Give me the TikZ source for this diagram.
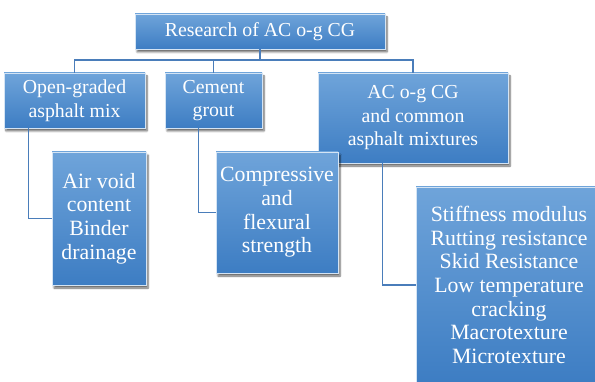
\documentclass[tikz,border=0pt]{standalone}
\usepackage{fontspec}
\setmainfont{Liberation Serif}
\usetikzlibrary{shadows.blur}
\definecolor{boxtop}{HTML}{6FA4DA}
\definecolor{boxbot}{HTML}{3D7DC3}
\definecolor{linkblue}{HTML}{4A7DBA}
\begin{document}
\begin{tikzpicture}[x=1pt,y=-1pt,
  box/.style={rectangle,draw=white!70!boxtop,line width=0.6pt,top color=boxtop,bottom color=boxbot,
    text=white,align=center,inner sep=2pt,
    font=\fontsize{19.8}{23.5}\selectfont,
    blur shadow={shadow xshift=2pt,shadow yshift=-3pt,shadow blur steps=6,shadow opacity=60}},
  leaf/.style={box,font=\fontsize{21.8}{23.6}\selectfont},
  link/.style={draw=linkblue,line width=1.3pt}]
  \useasboundingbox (0,0) rectangle (595,382);
  \coordinate (bus) at (261,60);
  \node[box,minimum width=250,minimum height=35] (top) at (260,31.5) {Research of AC o-g CG};
  \node[box,minimum width=141,minimum height=55] (og) at (74.5,100.5) {Open-graded\\asphalt mix};
  \node[box,minimum width=97,minimum height=55] (cg) at (213.5,100.5) {Cement\\grout};
  \node[box,minimum width=190,minimum height=90] (ac) at (413,118) {AC o-g CG\\and common\\asphalt mixtures};
  \node[leaf,minimum width=94,minimum height=133] (air) at (99,218.5) {Air void\\content\\Binder\\drainage};
  \node[leaf,minimum width=122,minimum height=121] (cfs) at (277,212.5) {Compressive\\and\\flexural\\strength};
  \node[leaf,minimum width=186,minimum height=196] (prop) at (509,285) {Stiffness modulus\\Rutting resistance\\Skid Resistance\\Low temperature\\cracking\\Macrotexture\\Microtexture};
  \draw[link] (top.south) -- (top.south |- bus);
  \draw[link] (og.north) |- (bus) -| (ac.north);
  \draw[link] (bus) -| (cg.north);
  \draw[link] ([xshift=25pt]og.south west) |- (air.west);
  \draw[link] ([xshift=34pt]cg.south west) |- (cfs.west);
  \draw[link] ([xshift=65pt]ac.south west) |- (prop.west);
\end{tikzpicture}
\end{document}
